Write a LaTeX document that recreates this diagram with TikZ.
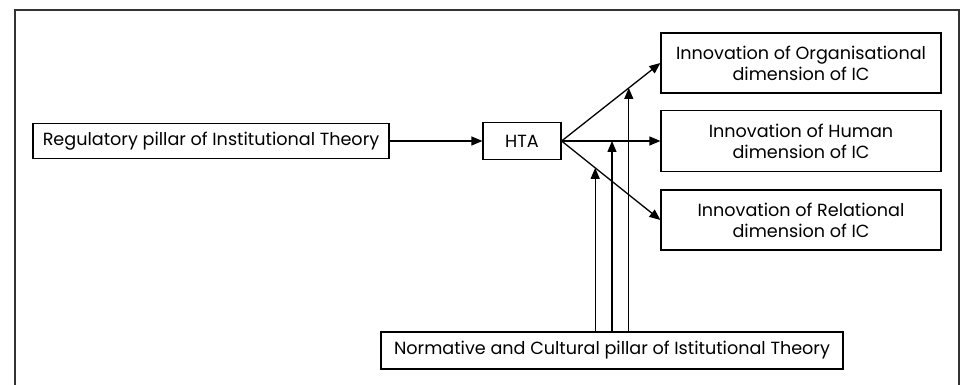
\documentclass[tikz,border=0pt]{standalone}
\usepackage{fontspec}
\setmainfont{Poppins}
\usetikzlibrary{arrows.meta,calc}
\begin{document}
\begin{tikzpicture}[x=1pt,y=-1pt,
  box/.style={draw=black,line width=1.2pt,inner sep=0pt,align=center,font=\fontsize{17.6}{21}\selectfont},
  conn/.style={line width=1.3pt,-{Triangle[length=11pt,width=9pt]}}]
\useasboundingbox (0,0) rectangle (962,385);
\draw[line width=1.5pt,draw=black!80] (15,390) -- (15,10) -- (959,10) -- (959,390);
\node[box,minimum width=356pt,minimum height=35pt] (reg) at (211,141) {Regulatory pillar of Institutional Theory};
\node[box,minimum width=78pt,minimum height=37pt] (hta) at (522,141) {HTA};
\node[box,minimum width=280pt,minimum height=60pt] (org) at (801,63) {Innovation of Organisational\\dimension of IC};
\node[box,minimum width=280pt,minimum height=61pt] (hum) at (801,141) {Innovation of Human\\dimension of IC};
\node[box,minimum width=280pt,minimum height=60pt] (rel) at (801,220) {Innovation of Relational\\dimension of IC};
\node[box,minimum width=462pt,minimum height=37pt] (norm) at (612,350.5) {Normative and Cultural pillar of Istitutional Theory};
\draw[conn] (reg) -- (hta);
\draw[conn] (hta.east) -- (org.west);
\draw[conn] (hta.east) -- (hum.west);
\draw[conn] (hta.east) -- (rel.west);
\path (hta.east) -- coordinate[pos=0.34] (p1) (rel.west);
\path (hta.east) -- coordinate[pos=0.51] (p2) (hum.west);
\path (hta.east) -- coordinate[pos=0.68] (p3) (org.west);
\draw[conn] (p1 |- norm.north) -- (p1);
\draw[conn] (p2 |- norm.north) -- (p2);
\draw[conn] (p3 |- norm.north) -- (p3);
\end{tikzpicture}
\end{document}
